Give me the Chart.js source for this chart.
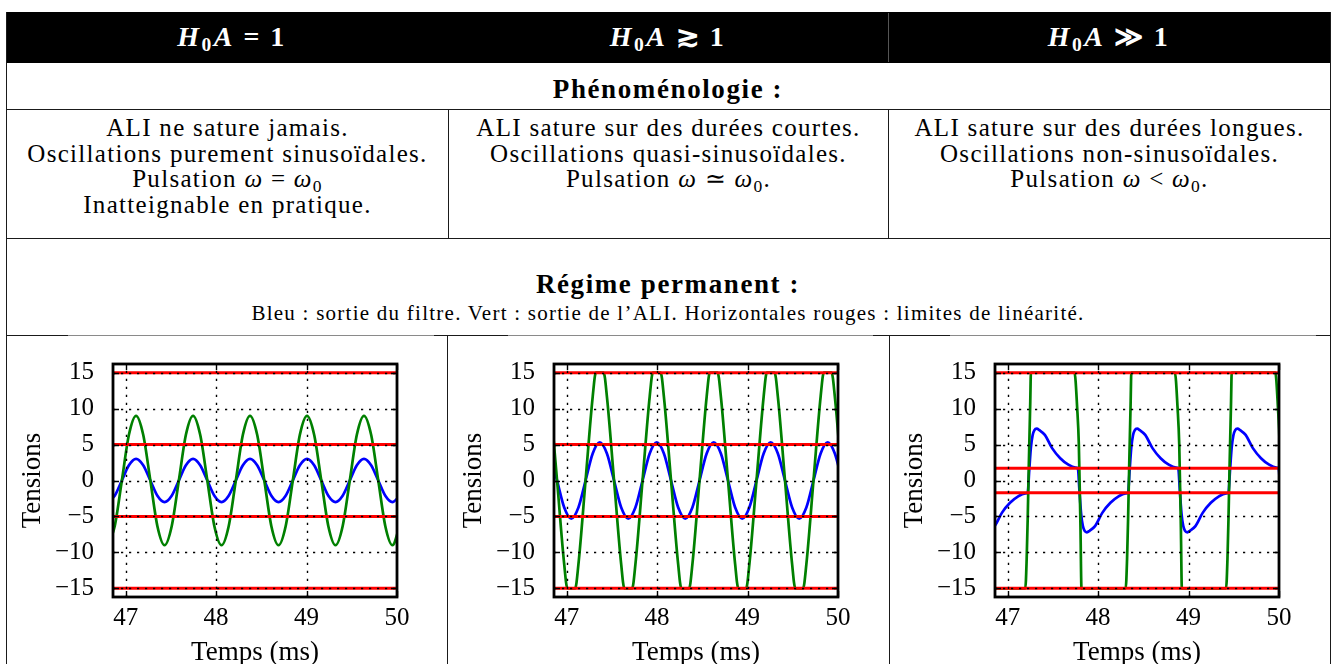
<!DOCTYPE html>
<html><head><meta charset="utf-8">
<script src="https://cdn.jsdelivr.net/npm/chart.js@4"></script>
<style>
html,body{margin:0;padding:0;background:#fff;width:1333px;height:664px;overflow:hidden;position:relative;font-family:"Liberation Serif",serif;color:#000}
.l{position:absolute;background:#1a1a1a}
.t{position:absolute;white-space:nowrap;text-align:center}
.hd{color:#fff;font-weight:bold;font-size:28px;line-height:30px;letter-spacing:2.5px}
.bd{font-size:25px;line-height:25.6px;letter-spacing:1.3px}
.bt{font-weight:bold;font-size:27px;line-height:30px;letter-spacing:1.6px}
.sm{font-size:21px;line-height:24px;letter-spacing:1.25px}
.s{font-size:0.7em;position:relative;top:0.25em;font-style:normal;line-height:0}
.rel{margin:0 0.3em;font-style:normal}
canvas{position:absolute}
</style></head><body>

<!-- table frame -->
<div class="l" style="left:6px;top:12px;width:1325px;height:51px;background:#000"></div>
<div class="l" style="left:888px;top:13px;width:1px;height:49px;background:#555"></div>
<div class="l" style="left:6px;top:12px;width:1px;height:652px"></div>
<div class="l" style="left:1330px;top:12px;width:1px;height:652px"></div>
<div class="l" style="left:6px;top:109px;width:1325px;height:1px"></div>
<div class="l" style="left:448px;top:110px;width:1px;height:128px"></div>
<div class="l" style="left:888px;top:110px;width:1px;height:128px"></div>
<div class="l" style="left:6px;top:238px;width:1325px;height:1px"></div>
<div class="l" style="left:6px;top:335px;width:1325px;height:1px;background:#8a8a8a"></div>
<div class="l" style="left:6px;top:335px;width:62px;height:1px"></div>
<div class="l" style="left:434px;top:335px;width:74px;height:1px"></div>
<div class="l" style="left:873px;top:335px;width:77px;height:1px"></div>
<div class="l" style="left:1316px;top:335px;width:15px;height:1px"></div>
<div class="l" style="left:447px;top:335px;width:1px;height:329px"></div>
<div class="l" style="left:889px;top:335px;width:1px;height:329px"></div>

<!-- header -->
<div class="t hd" style="left:-68px;width:600px;top:22px"><i>H</i><span class="s">0</span><i>A</i><span class="rel">=</span>1</div>
<div class="t hd" style="left:368px;width:600px;top:22px"><i>H</i><span class="s">0</span><i>A</i><span class="rel">≳</span>1</div>
<div class="t hd" style="left:809px;width:600px;top:22px"><i>H</i><span class="s">0</span><i>A</i><span class="rel">≫</span>1</div>

<div class="t bt" style="left:368px;width:600px;top:74px">Phénoménologie :</div>

<div class="t bd" style="left:7px;width:441px;top:115px">ALI ne sature jamais.<br>Oscillations purement sinusoïdales.<br>Pulsation <i>ω</i><span class="rel">=</span><i>ω</i><span class="s">0</span><br>Inatteignable en pratique.</div>
<div class="t bd" style="left:449px;width:439px;top:115px">ALI sature sur des durées courtes.<br>Oscillations quasi-sinusoïdales.<br>Pulsation <i>ω</i><span class="rel">≃</span><i>ω</i><span class="s">0</span>.</div>
<div class="t bd" style="left:889px;width:441px;top:115px">ALI sature sur des durées longues.<br>Oscillations non-sinusoïdales.<br>Pulsation <i>ω</i><span class="rel">&lt;</span><i>ω</i><span class="s">0</span>.</div>

<div class="t bt" style="left:368px;width:600px;top:269px">Régime permanent :</div>
<div class="t sm" style="left:168px;width:1000px;top:301px">Bleu : sortie du filtre. Vert : sortie de l’ALI. Horizontales rouges : limites de linéarité.</div>

<canvas id="c1" width="438" height="333" style="left:8px;top:338px"></canvas>
<canvas id="c2" width="438" height="333" style="left:449px;top:338px"></canvas>
<canvas id="c3" width="438" height="333" style="left:890px;top:338px"></canvas>

<script>
// ---------- data ----------
const xTicks = [47, 48, 49, 50];
const yTicks = [-15, -10, -5, 0, 5, 10, 15];
const xRange = [46.86, 50];
const yRange = [-16.2, 16.2];

// H0A = 1
const t1 = [46.800,46.879,46.958,47.036,47.115,47.194,47.273,47.351,47.430,47.509,47.588,47.666,47.745,47.824,47.903,47.981,48.060,48.139,48.218,48.296,48.375,48.454,48.533,48.611,48.690,48.769,48.848,48.926,49.005,49.084,49.163,49.241,49.320,49.399,49.478,49.556,49.635,49.714,49.793,49.871,49.950,50.029];
const green1 = [-9,-6.36,0,6.36,9,6.36,0,-6.36, -9,-6.36,0,6.36,9,6.36,0,-6.36, -9,-6.36,0,6.36,9,6.36,0,-6.36, -9,-6.36,0,6.36,9,6.36,0,-6.36, -9,-6.36,0,6.36,9,6.36,0,-6.36, -9,-6.36];
const blue1 = [-3,-2.12,0,2.12,3,2.12,0,-2.12, -3,-2.12,0,2.12,3,2.12,0,-2.12, -3,-2.12,0,2.12,3,2.12,0,-2.12, -3,-2.12,0,2.12,3,2.12,0,-2.12, -3,-2.12,0,2.12,3,2.12,0,-2.12, -3,-2.12];
const limits1 = [15, 5, -5, -15];

// H0A >~ 1
const t2 = [46.815,46.894,46.973,47.051,47.130,47.209,47.288,47.366,47.445,47.524,47.603,47.681,47.760,47.839,47.918,47.996,48.075,48.154,48.233,48.311,48.390,48.469,48.548,48.626,48.705,48.784,48.863,48.941,49.020,49.099,49.178,49.256,49.335,49.414,49.493,49.571,49.650,49.729,49.808,49.886,49.965,50.044];
const blue2 = [3.75,0,-3.75,-5.3,-3.75,0,3.75,5.3, 3.75,0,-3.75,-5.3,-3.75,0,3.75,5.3, 3.75,0,-3.75,-5.3,-3.75,0,3.75,5.3, 3.75,0,-3.75,-5.3,-3.75,0,3.75,5.3, 3.75,0,-3.75,-5.3,-3.75,0,3.75,5.3, 3.75,0];
const t2g = [46.815,46.894,46.973,47.008,47.051,47.094,47.130,47.209,47.288,47.323,47.366,47.409,47.445,47.524,47.603,47.638,47.681,47.724,47.760,47.839,47.918,47.953,47.996,48.039,48.075,48.154,48.233,48.268,48.311,48.354,48.390,48.469,48.548,48.583,48.626,48.669,48.705,48.784,48.863,48.898,48.941,48.984,49.020,49.099,49.178,49.213,49.256,49.299,49.335,49.414,49.493,49.528,49.571,49.614,49.650,49.729,49.808,49.843,49.886,49.929,49.965,50.044];
const green2 = [11.67,0,-11.67,-15,-15,-15,-11.67,0,11.67,15,15,15, 11.67,0,-11.67,-15,-15,-15,-11.67,0,11.67,15,15,15, 11.67,0,-11.67,-15,-15,-15,-11.67,0,11.67,15,15,15, 11.67,0,-11.67,-15,-15,-15,-11.67,0,11.67,15,15,15, 11.67,0,-11.67,-15,-15,-15,-11.67,0,11.67,15,15,15, 11.67,0];
const limits2 = [15, 5, -5, -15];

// H0A >> 1
const t3b = [46.666,46.684,46.702,46.721,46.741,46.766,46.796,46.856,46.936,47.026,47.116,47.196,
 47.221,47.239,47.257,47.276,47.296,47.321,47.351,47.411,47.491,47.581,47.671,47.751,
 47.776,47.794,47.812,47.831,47.851,47.876,47.906,47.966,48.046,48.136,48.226,48.306,
 48.331,48.349,48.367,48.386,48.406,48.431,48.461,48.521,48.601,48.691,48.781,48.861,
 48.886,48.904,48.922,48.941,48.961,48.986,49.016,49.076,49.156,49.246,49.336,49.416,
 49.441,49.459,49.477,49.496,49.516,49.541,49.571,49.631,49.711,49.801,49.891,49.971,
 49.996,50.014,50.032];
const blue3 = [1.7,-1.5,-4.6,-6.3,-7.0,-7.2,-7.0,-6.35,-4.5,-3.1,-2.2,-1.8,
 -1.7,1.5,4.6,6.3,7.0,7.2,7.0,6.35,4.5,3.1,2.2,1.8,
 1.7,-1.5,-4.6,-6.3,-7.0,-7.2,-7.0,-6.35,-4.5,-3.1,-2.2,-1.8,
 -1.7,1.5,4.6,6.3,7.0,7.2,7.0,6.35,4.5,3.1,2.2,1.8,
 1.7,-1.5,-4.6,-6.3,-7.0,-7.2,-7.0,-6.35,-4.5,-3.1,-2.2,-1.8,
 -1.7,1.5,4.6,6.3,7.0,7.2,7.0,6.35,4.5,3.1,2.2,1.8,
 1.7,-1.5,-4.6];
const t3g = [46.800,47.195,47.210,47.221,47.235,47.250,47.257,
 47.739,47.769,47.787,47.805,47.816,
 48.305,48.320,48.331,48.345,48.360,48.367,
 48.849,48.879,48.897,48.915,48.926,
 49.415,49.430,49.441,49.455,49.470,49.477,
 49.959,49.989,50.007,50.025,50.036];
const green3 = [-15,-15,-11,-5.6,2.8,11,15,
 15,10,5,-6.5,-15,
 -15,-11,-5.6,2.8,11,15,
 15,10,5,-6.5,-15,
 -15,-11,-5.6,2.8,11,15,
 15,10,5,-6.5,-15];
const limits3 = [15, 1.7, -1.7, -15];

// ---------- drawing ----------
const FONT = {family: 'Liberation Serif', size: 25};
const TFONT = {family: 'Liberation Serif', size: 27};
function pts(ts, vs) { return ts.map((t, i) => ({x: t, y: vs[i]})); }
function hline(v) { return [{x: xRange[0] - 0.2, y: v}, {x: xRange[1] + 0.2, y: v}]; }

const framePlugin = {
  id: 'frame',
  afterDatasetsDraw(chart) {
    const {ctx, chartArea: a, scales: {x, y}} = chart;
    ctx.save();
    ctx.beginPath(); ctx.rect(a.left, a.top, a.right - a.left, a.bottom - a.top); ctx.clip();
    ctx.strokeStyle = '#000'; ctx.lineWidth = 1.4; ctx.setLineDash([2.2, 5.8]);
    x.ticks.forEach(t => {
      const p = Math.round(x.getPixelForValue(t.value)) + 0.5;
      ctx.beginPath(); ctx.moveTo(p, a.bottom); ctx.lineTo(p, a.top); ctx.stroke();
    });
    y.ticks.forEach(t => {
      const p = Math.round(y.getPixelForValue(t.value)) + 0.5;
      ctx.beginPath(); ctx.moveTo(a.left, p); ctx.lineTo(a.right, p); ctx.stroke();
    });
    ctx.restore();
    ctx.save();
    ctx.strokeStyle = '#000'; ctx.lineWidth = 1.4; ctx.setLineDash([]);
    const L = 6;
    x.ticks.forEach(t => {
      const p = Math.round(x.getPixelForValue(t.value)) + 0.5;
      ctx.beginPath(); ctx.moveTo(p, a.bottom); ctx.lineTo(p, a.bottom - L);
      ctx.moveTo(p, a.top); ctx.lineTo(p, a.top + L); ctx.stroke();
    });
    y.ticks.forEach(t => {
      const p = Math.round(y.getPixelForValue(t.value)) + 0.5;
      ctx.beginPath(); ctx.moveTo(a.left, p); ctx.lineTo(a.left + L, p);
      ctx.moveTo(a.right, p); ctx.lineTo(a.right - L, p); ctx.stroke();
    });
    ctx.lineWidth = 2.8;
    ctx.strokeRect(a.left, a.top, a.right - a.left, a.bottom - a.top);
    ctx.restore();
  }
};

function makeChart(id, tb, vb, tg, vg, limits) {
  const datasets = limits.map(v => ({data: hline(v), borderColor: '#ff0000', borderWidth: 3, order: 0}));
  datasets.push({data: pts(tg, vg), borderColor: '#008000', borderWidth: 2.7, order: 1});
  datasets.push({data: pts(tb, vb), borderColor: '#0000ff', borderWidth: 2.7, order: 2});
  new Chart(document.getElementById(id), {
    type: 'line',
    data: {datasets},
    plugins: [framePlugin],
    options: {
      responsive: false, animation: false, devicePixelRatio: 1,
      layout: {padding: {left: 0, right: 49, top: 26, bottom: 0}},
      plugins: {legend: {display: false}, tooltip: {enabled: false}},
      elements: {point: {radius: 0}, line: {cubicInterpolationMode: 'monotone', borderCapStyle: 'butt', fill: false}},
      scales: {
        x: {
          type: 'linear', min: xRange[0], max: xRange[1],
          afterBuildTicks: s => { s.ticks = xTicks.map(v => ({value: v})); },
          afterFit: s => { s.height = 74; },
          grid: {display: false}, border: {display: false},
          ticks: {font: FONT, color: '#000', padding: -2, maxRotation: 0, autoSkip: false},
          title: {display: true, text: 'Temps (ms)', font: TFONT, color: '#000', padding: {top: 0, bottom: 2}}
        },
        y: {
          type: 'linear', min: yRange[0], max: yRange[1],
          afterBuildTicks: s => { s.ticks = yTicks.map(v => ({value: v})); },
          afterFit: s => { s.width = 105; },
          grid: {display: false}, border: {display: false},
          ticks: {font: FONT, color: '#000', padding: 11, autoSkip: false,
            callback: v => (v < 0 ? '\u2212' + Math.abs(v) : String(v))},
          title: {display: true, text: 'Tensions', font: TFONT, color: '#000', padding: {top: 9, bottom: 0}}
        }
      }
    }
  });
}
makeChart('c1', t1, blue1, t1, green1, limits1);
makeChart('c2', t2, blue2, t2g, green2, limits2);
makeChart('c3', t3b, blue3, t3g, green3, limits3);
</script>
</body></html>
